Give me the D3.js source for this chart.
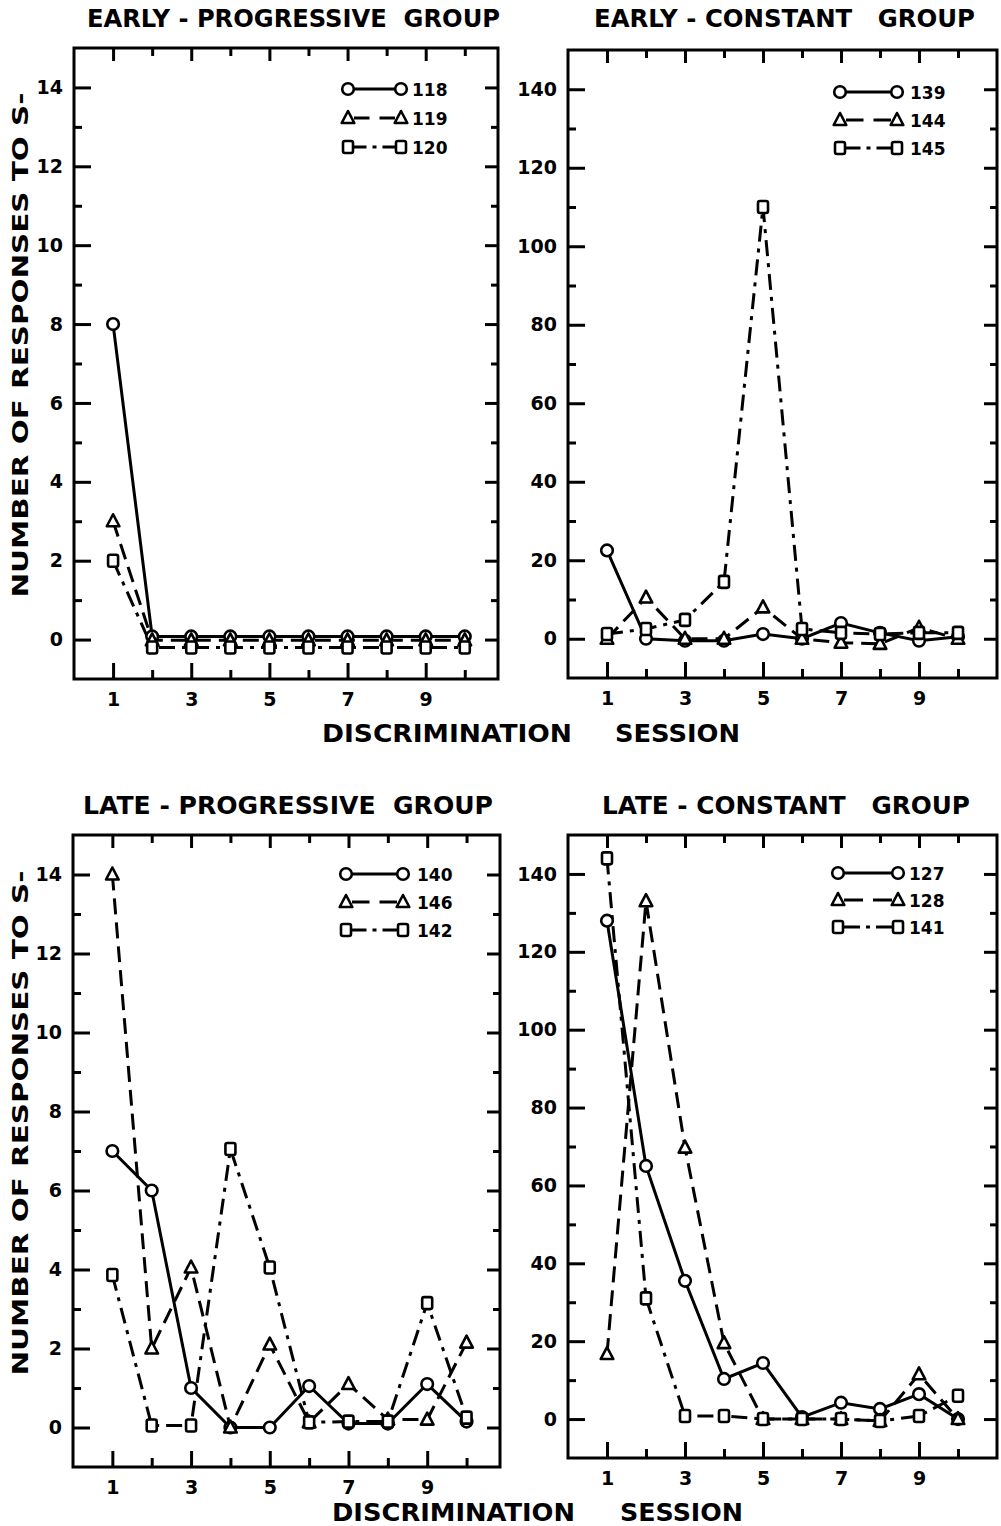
<!DOCTYPE html>
<html><head><meta charset="utf-8">
<script src="https://cdn.jsdelivr.net/npm/d3@7"></script>
<style>body{margin:0;background:#fff}svg{display:block}</style>
</head><body>
<svg id="c" width="1001" height="1526"></svg>
<script>
// ---------- data ----------
const sessions = [1, 2, 3, 4, 5, 6, 7, 8, 9, 10];
const xMajorTicks = [1, 3, 5, 7, 9];
const xMinorTicks = [2, 4, 6, 8, 10];
const smallYMajor = [0, 2, 4, 6, 8, 10, 12, 14];
const smallYMinor = [1, 3, 5, 7, 9, 11, 13];
const largeYMajor = [0, 20, 40, 60, 80, 100, 120, 140];
const largeYMinor = [10, 30, 50, 70, 90, 110, 130];

const panelTitles = ["EARLY - PROGRESSIVE  GROUP", "EARLY - CONSTANT   GROUP",
                     "LATE - PROGRESSIVE  GROUP", "LATE - CONSTANT   GROUP"];
const yAxisTitle = "NUMBER OF RESPONSES TO S-";
const xAxisTitleA = "DISCRIMINATION";
const xAxisTitleB = "SESSION";

// Early-Progressive group
const epSubjects = ["118", "119", "120"];
const ep118 = [8, 0.08, 0.08, 0.08, 0.08, 0.08, 0.08, 0.08, 0.08, 0.08];
const ep119 = [3, -0.02, -0.02, -0.02, -0.02, -0.02, -0.02, -0.02, -0.02, -0.02];
const ep120 = [2, -0.2, -0.2, -0.2, -0.2, -0.2, -0.2, -0.2, -0.2, -0.2];

// Early-Constant group
const ecSubjects = ["139", "144", "145"];
const ec139 = [22.5, 0, -0.5, -0.5, 1.2, 0, 4, 1.5, -0.5, 0.5];
const ec144 = [0, 10.5, 0, 0, 8, 0, -1, -1.3, 2.8, 0];
const ec145 = [1.2, 2.5, 4.8, 14.5, 110, 2.5, 1.5, 1.2, 1.5, 1.5];

// Late-Progressive group
const lpSubjects = ["140", "146", "142"];
const lp140 = [7, 6, 1, 0, 0, 1.05, 0.1, 0.1, 1.1, 0.15];
const lp146 = [14, 2, 4.05, 0, 2.1, 0.13, 1.1, 0.2, 0.2, 2.15];
const lp142 = [3.86, 0.05, 0.05, 7.05, 4.05, 0.13, 0.15, 0.15, 3.15, 0.25];

// Late-Constant group
const lcSubjects = ["127", "128", "141"];
const lc127 = [128, 65, 35.5, 10.3, 14.4, 0.5, 4.2, 2.6, 6.4, 0];
const lc128 = [16.7, 133, 69.7, 19.5, 0, 0, 0, -0.5, 11.5, 0];
const lc141 = [144, 31, 0.8, 0.8, 0, 0, 0, -0.5, 0.8, 6];

// ---------- layout ----------
const svg = d3.select("#c");
const FONT = "'DejaVu Sans', sans-serif";

const styles = [
  {marker: "circle", dash: null},
  {marker: "triangle", dash: "16,8"},
  {marker: "square", dash: "16,7,4,7"}
];

const panels = [
  {title: panelTitles[0], tx: [87, 500], ty: 27, left: 74, right: 498, top: 48, bottom: 679,
   xDomain: [0, 10.85], yDomain: [-1, 15], yMajor: smallYMajor, yMinor: smallYMinor,
   names: epSubjects, series: [ep118, ep119, ep120],
   leg: {x1: 348, x2: 401, tx: 412, ys: [89, 118, 147]}},
  {title: panelTitles[1], tx: [594, 975], ty: 27, left: 568, right: 997, top: 50, bottom: 678,
   xDomain: [0, 11], yDomain: [-10, 150], yMajor: largeYMajor, yMinor: largeYMinor,
   names: ecSubjects, series: [ec139, ec144, ec145],
   leg: {x1: 840, x2: 897, tx: 910, ys: [92, 120, 148]}},
  {title: panelTitles[2], tx: [83, 493], ty: 814, left: 73, right: 500, top: 835, bottom: 1467,
   xDomain: [0, 10.85], yDomain: [-1, 15], yMajor: smallYMajor, yMinor: smallYMinor,
   names: lpSubjects, series: [lp140, lp146, lp142],
   leg: {x1: 346, x2: 403, tx: 417, ys: [874, 902, 930]}},
  {title: panelTitles[3], tx: [602, 970], ty: 814, left: 568, right: 997, top: 835, bottom: 1458,
   xDomain: [0, 11], yDomain: [-10, 150], yMajor: largeYMajor, yMinor: largeYMinor,
   names: lcSubjects, series: [lc127, lc128, lc141],
   leg: {x1: 838, x2: 898, tx: 909, ys: [873, 900, 927]}}
];

function drawMarker(g, type, cx, cy) {
  if (type === "circle") {
    g.append("circle").attr("cx", cx).attr("cy", cy).attr("r", 5.8)
      .attr("fill", "#fff").attr("stroke", "#000").attr("stroke-width", 2.6);
  } else if (type === "triangle") {
    g.append("path").attr("d", `M${cx},${cy - 7} L${cx + 6.3},${cy + 5} L${cx - 6.3},${cy + 5} Z`)
      .attr("fill", "#fff").attr("stroke", "#000").attr("stroke-width", 2.6).attr("stroke-linejoin", "round");
  } else {
    g.append("rect").attr("x", cx - 5).attr("y", cy - 6).attr("width", 10).attr("height", 12).attr("rx", 2)
      .attr("fill", "#fff").attr("stroke", "#000").attr("stroke-width", 2.6);
  }
}

function styleAxis(g, labels) {
  g.select(".domain").remove();
  g.selectAll(".tick line").attr("stroke", "#000").attr("stroke-width", 3);
  g.selectAll(".tick text").attr("fill", "#000")
    .style("font-family", FONT).style("font-size", labels ? "19px" : "0px").style("font-weight", "bold");
}

panels.forEach(p => {
  const x = d3.scaleLinear().domain(p.xDomain).range([p.left, p.right]);
  const y = d3.scaleLinear().domain(p.yDomain).range([p.bottom, p.top]);
  const g = svg.append("g");

  // axes (inward ticks)
  const gb = g.append("g").attr("transform", `translate(0,${p.bottom})`)
    .call(d3.axisBottom(x).tickValues(xMajorTicks).tickSizeInner(-16).tickSizeOuter(0).tickPadding(14).tickFormat(d3.format("d")));
  styleAxis(gb, true);
  styleAxis(g.append("g").attr("transform", `translate(0,${p.bottom})`)
    .call(d3.axisBottom(x).tickValues(xMinorTicks).tickSizeInner(-9).tickSizeOuter(0).tickFormat("")), false);
  styleAxis(g.append("g").attr("transform", `translate(0,${p.top})`)
    .call(d3.axisTop(x).tickValues(xMajorTicks).tickSizeInner(-13).tickSizeOuter(0).tickFormat("")), false);
  styleAxis(g.append("g").attr("transform", `translate(0,${p.top})`)
    .call(d3.axisTop(x).tickValues(xMinorTicks).tickSizeInner(-8).tickSizeOuter(0).tickFormat("")), false);
  const gl = g.append("g").attr("transform", `translate(${p.left},0)`)
    .call(d3.axisLeft(y).tickValues(p.yMajor).tickSizeInner(-17).tickSizeOuter(0).tickPadding(11).tickFormat(d3.format("d")));
  styleAxis(gl, true);
  styleAxis(g.append("g").attr("transform", `translate(${p.left},0)`)
    .call(d3.axisLeft(y).tickValues(p.yMinor).tickSizeInner(-8).tickSizeOuter(0).tickFormat("")), false);
  styleAxis(g.append("g").attr("transform", `translate(${p.right},0)`)
    .call(d3.axisRight(y).tickValues(p.yMajor).tickSizeInner(-13).tickSizeOuter(0).tickFormat("")), false);
  styleAxis(g.append("g").attr("transform", `translate(${p.right},0)`)
    .call(d3.axisRight(y).tickValues(p.yMinor).tickSizeInner(-7).tickSizeOuter(0).tickFormat("")), false);

  // frame
  g.append("rect").attr("x", p.left).attr("y", p.top)
    .attr("width", p.right - p.left).attr("height", p.bottom - p.top)
    .attr("fill", "none").attr("stroke", "#000").attr("stroke-width", 3);

  // title
  g.append("text").attr("x", p.tx[0]).attr("y", p.ty)
    .attr("textLength", p.tx[1] - p.tx[0]).attr("lengthAdjust", "spacingAndGlyphs")
    .style("font-family", FONT).style("font-size", "25px").style("font-weight", "bold")
    .style("white-space", "pre").text(p.title);

  // lines
  const line = d3.line().x(d => x(d[0])).y(d => y(d[1]));
  p.series.forEach((vals, i) => {
    const pts = sessions.map((s, k) => [s, vals[k]]);
    g.append("path").attr("d", line(pts)).attr("fill", "none")
      .attr("stroke", "#000").attr("stroke-width", 3)
      .attr("stroke-dasharray", styles[i].dash);
  });
  p.series.forEach((vals, i) => {
    sessions.forEach((s, k) => drawMarker(g, styles[i].marker, x(s), y(vals[k])));
  });

  // legend
  const L = p.leg;
  p.names.forEach((name, i) => {
    const yy = L.ys[i];
    const a = L.x1 + 6, b = L.x2 - 6, len = b - a;
    let dash = null;
    if (i === 1) { const d = (len - 10) / 2; dash = `${d},10,${d}`; }
    if (i === 2) { const d = (len - 16) / 2; dash = `${d},6,4,6,${d}`; }
    g.append("line").attr("x1", a).attr("x2", b).attr("y1", yy).attr("y2", yy)
      .attr("stroke", "#000").attr("stroke-width", 3).attr("stroke-dasharray", dash);
    drawMarker(g, styles[i].marker, L.x1, yy);
    drawMarker(g, styles[i].marker, L.x2, yy);
    g.append("text").attr("x", L.tx).attr("y", yy + 6.5)
      .style("font-family", FONT).style("font-size", "17px").style("font-weight", "bold")
      .text(name);
  });
});

// axis titles
[[345], [1123]].forEach(([cy]) => {
  svg.append("text").attr("transform", `translate(28,${cy}) rotate(-90)`)
    .attr("text-anchor", "middle").attr("textLength", 505).attr("lengthAdjust", "spacingAndGlyphs")
    .style("font-family", FONT).style("font-size", "21px").style("font-weight", "bold")
    .text(yAxisTitle);
});
[[322, 572, 615, 740, 742], [332, 575, 620, 743, 1521]].forEach(([a1, a2, b1, b2, yy]) => {
  svg.append("text").attr("x", a1).attr("y", yy).attr("textLength", a2 - a1).attr("lengthAdjust", "spacingAndGlyphs")
    .style("font-family", FONT).style("font-size", "24px").style("font-weight", "bold").text(xAxisTitleA);
  svg.append("text").attr("x", b1).attr("y", yy).attr("textLength", b2 - b1).attr("lengthAdjust", "spacingAndGlyphs")
    .style("font-family", FONT).style("font-size", "24px").style("font-weight", "bold").text(xAxisTitleB);
});
</script>
</body></html>
